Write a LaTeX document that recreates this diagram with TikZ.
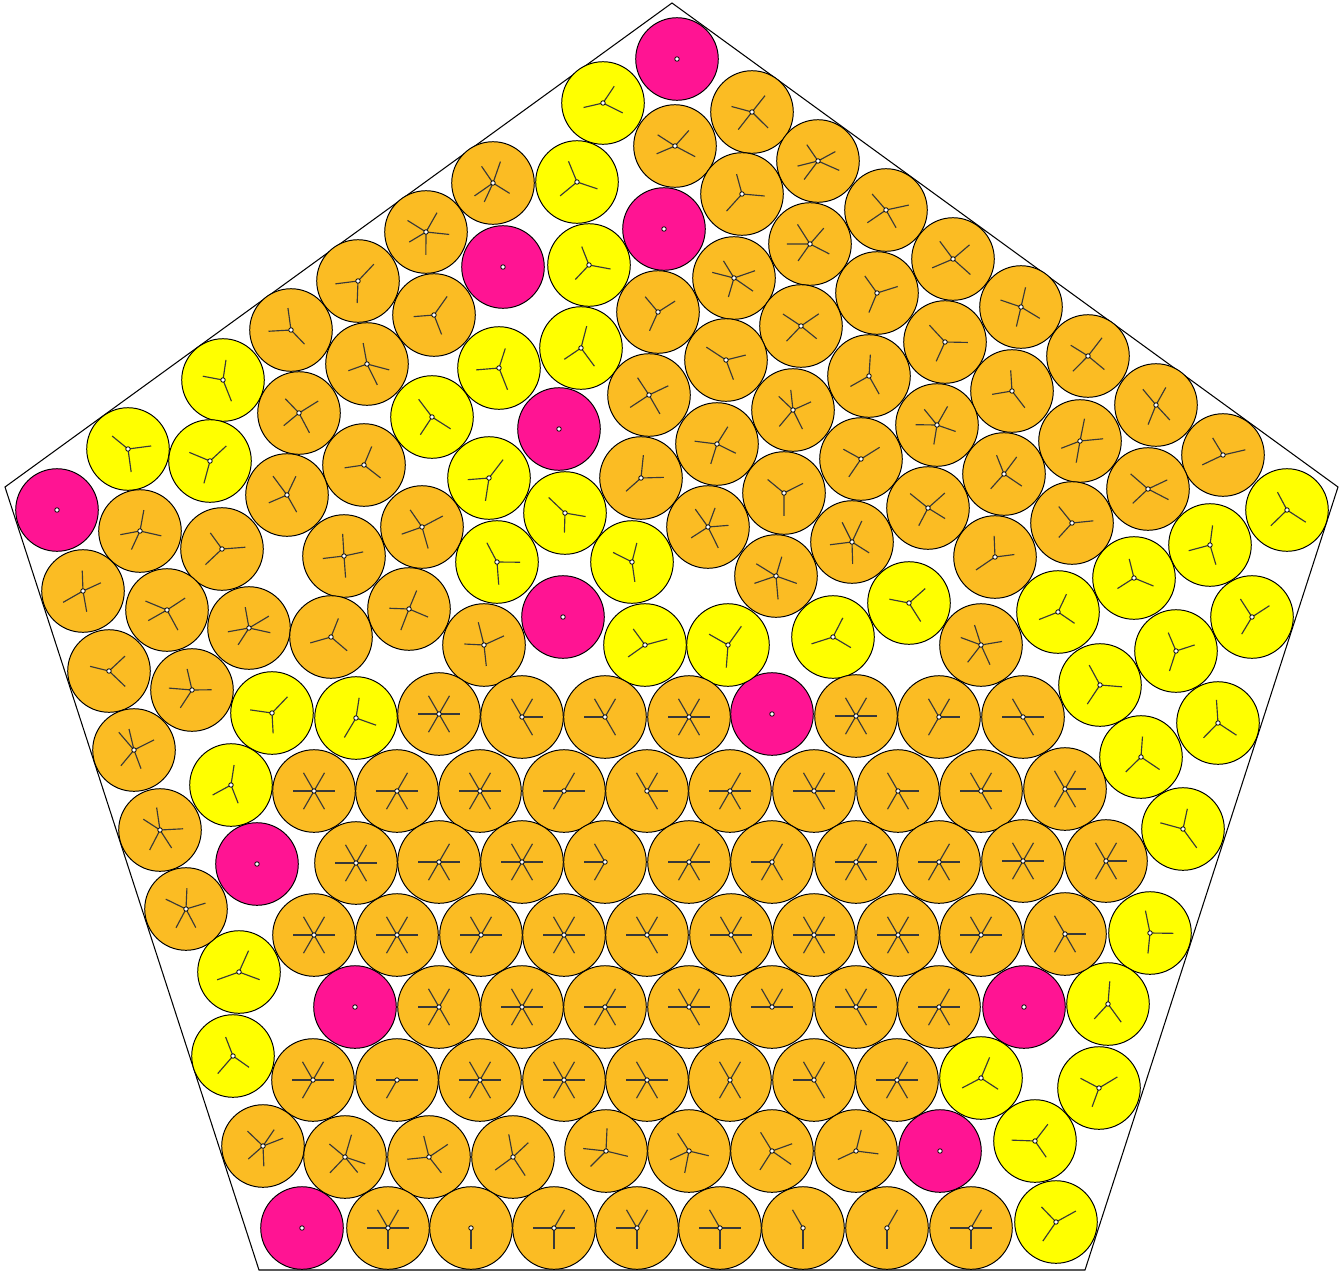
\documentclass[tikz,border=0pt]{standalone}
\definecolor{orng}{RGB}{251,188,35}
\definecolor{yel}{RGB}{255,255,0}
\definecolor{mag}{RGB}{255,20,147}
\tikzset{
  ball/.style={draw=black,line width=0.55pt},
  spoke/.style={draw=black!78,line width=0.65pt},
  cdot/.style={fill=white,draw=black,line width=0.45pt},
  frame/.style={draw=black,line width=0.6pt}
}
\newcommand\spokesat[3]{%
  \pgfmathsetmacro\sbase{360*rnd}%
  \foreach \k in {1,...,#3}{%
    \pgfmathsetmacro\sang{\sbase+\k*360/#3+50*(rnd-0.5)}%
    \pgfmathsetmacro\slen{0.39+0.08*rnd}%
    \draw[spoke] (#1,#2) -- ++(\sang:\slen cm);}%
}
\newcommand\dotat[2]{\filldraw[cdot] (#1,#2) circle (0.045cm);}
\newcommand\Mb[2]{\filldraw[ball,fill=mag] (#1,#2) circle (0.826cm); \dotat{#1}{#2}}
\newcommand\Yb[2]{\filldraw[ball,fill=yel] (#1,#2) circle (0.826cm); \spokesat{#1}{#2}{3}\dotat{#1}{#2}}
\newcommand\Ob[2]{\filldraw[ball,fill=orng] (#1,#2) circle (0.826cm);%
  \pgfmathtruncatemacro\nsp{3+floor(2.99*rnd)}\spokesat{#1}{#2}{\nsp}\dotat{#1}{#2}}
\newcommand\Hb[2]{\filldraw[ball,fill=orng] (#1,#2) circle (0.826cm);%
  \foreach \a in {0,60,...,300}{%
    \pgfmathtruncatemacro\keep{rnd>0.2 ? 1 : 0}%
    \ifnum\keep=1 \draw[spoke] (#1,#2) -- ++(\a:0.42cm);\fi}%
  \dotat{#1}{#2}}
\newcommand\Bb[2]{\filldraw[ball,fill=orng] (#1,#2) circle (0.826cm);%
  \draw[spoke] (#1,#2) -- ++(270:0.42cm);%
  \foreach \a in {0,60,120,180}{%
    \pgfmathtruncatemacro\keep{rnd>0.45 ? 1 : 0}%
    \ifnum\keep=1 \draw[spoke] (#1,#2) -- ++(\a:0.42cm);\fi}%
  \dotat{#1}{#2}}
\begin{document}
\begin{tikzpicture}[x=0.02cm,y=-0.02cm]
\pgfmathsetseed{7}
\useasboundingbox (0,0) rectangle (1343,1272);
\fill[white] (0,0) rectangle (1343,1272);
\draw[frame] (672,3) coordinate (pT) -- (1338,487) coordinate (pR) -- (1085,1270) coordinate (pBR) -- (259,1270) coordinate (pBL) -- (5,487) coordinate (pL) -- cycle;
% magenta
\foreach \x/\y in {677/59,664/229,503/267,559/429,57/510,563/617,772/714,257/864,355/1007,1024/1007,940/1151,302/1228}{\Mb{\x}{\y}}
% yellow
\foreach \x/\y in {603/103,577/182,589/265,581/348,499/368,223/380,432/417,128/449,210/461,489/478,565/513,497/562,632/562,
  1287/510,1210/545,1134/578,1058/612,1252/617,909/603,645/645,728/645,833/637,1176/651,1100/685,1218/723,1141/757,
  272/713,356/718,231/785,1183/829,1150/933,239/972,1108/1004,233/1056,981/1078,1099/1088,1035/1141,1056/1222}{\Yb{\x}{\y}}
% orange, upper irregular part
\foreach \x/\y in {752/112,675/146,818/161,493/183,742/194,886/210,426/232,810/244,953/259,734/278,358/281,
  434/315,291/330,877/293,1021/307,658/312,801/326,367/364,726/360,1088/356,945/342,869/376,
  649/395,299/413,793/410,1156/405,1012/391,937/425,717/444,364/465,861/459,1080/441,1223/455,
  641/478,1004/474,287/495,784/493,928/508,1148/489,422/527,140/531,708/527,1072/523,222/549,
  344/556,852/542,995/557,776/576,83/591,167/610,409/609,249/628,331/637,484/645,981/645,
  109/671,192/690,134/750,160/830,186/909}{\Ob{\x}{\y}}
% orange, lower grid
\foreach \x/\y in {439/714,522/717,605/717,689/717,856/716,939/717,1023/717,
  314/791,397/791,480/791,564/791,647/791,730/791,814/791,898/791,981/791,1065/789,
  356/863,439/862,522/862,605/862,689/862,772/862,856/862,939/862,1023/861,1106/861,
  314/935,397/935,481/935,564/935,647/935,731/935,814/935,898/935,981/935,1065/934,
  439/1007,522/1007,605/1007,689/1007,772/1007,856/1007,939/1007,
  313/1080,397/1080,480/1080,564/1080,647/1080,730/1080,814/1080,897/1080}{\Hb{\x}{\y}}
\foreach \x/\y in {263/1146,345/1157,429/1157,513/1157,606/1151,689/1151,772/1151,856/1151}{\Ob{\x}{\y}}
\foreach \x/\y in {388/1228,471/1228,554/1228,637/1228,720/1228,803/1228,887/1228,971/1228}{\Bb{\x}{\y}}
\end{tikzpicture}
\end{document}
